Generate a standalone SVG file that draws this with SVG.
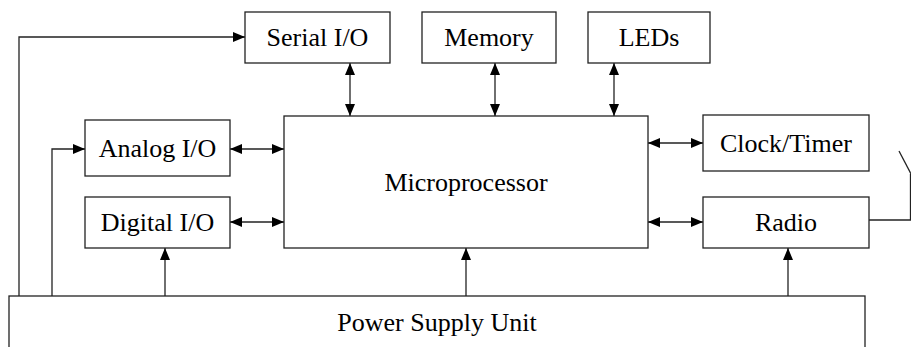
<svg xmlns="http://www.w3.org/2000/svg" width="911" height="347" viewBox="0 0 911 347">
<defs>
<marker id="ah" viewBox="0 0 12 10" refX="12" refY="5" markerWidth="12" markerHeight="10" markerUnits="userSpaceOnUse" orient="auto-start-reverse">
<path d="M0,0 L12,5 L0,10 Z" fill="#000"/>
</marker>
</defs>
<style>
.box{fill:#fff;stroke:#222;stroke-width:1.3}
.lbl{font-family:"Liberation Serif","Times New Roman",serif;font-size:26px;fill:#000;text-anchor:middle;dominant-baseline:central}
.ln{fill:none;stroke:#222;stroke-width:1.3}
</style>
<rect width="911" height="347" fill="#fff"/>
<g id="connectors">
<path class="ln" d="M19,296 V37 H245" marker-end="url(#ah)"/>
<path class="ln" d="M52,296 V149 H85" marker-end="url(#ah)"/>
<path class="ln" d="M350,63 V116" marker-start="url(#ah)" marker-end="url(#ah)"/>
<path class="ln" d="M495,63 V116" marker-start="url(#ah)" marker-end="url(#ah)"/>
<path class="ln" d="M614,63 V116" marker-start="url(#ah)" marker-end="url(#ah)"/>
<path class="ln" d="M230,149 H284" marker-start="url(#ah)" marker-end="url(#ah)"/>
<path class="ln" d="M230,222 H284" marker-start="url(#ah)" marker-end="url(#ah)"/>
<path class="ln" d="M648,143 H703" marker-start="url(#ah)" marker-end="url(#ah)"/>
<path class="ln" d="M648,222 H703" marker-start="url(#ah)" marker-end="url(#ah)"/>
<path class="ln" d="M165,296 V248" marker-end="url(#ah)"/>
<path class="ln" d="M466,296 V248" marker-end="url(#ah)"/>
<path class="ln" d="M788,296 V248" marker-end="url(#ah)"/>
<path class="ln" d="M869,220 H911"/>
<path class="ln" d="M910.5,220 V174"/>
<path class="ln" d="M899,151 L911,174"/>
</g>
<g id="serial"><rect class="box" x="245" y="12" width="145" height="51"/><text class="lbl" x="317.5" y="37.5">Serial I/O</text></g>
<g id="memory"><rect class="box" x="422" y="12" width="134" height="51"/><text class="lbl" x="489" y="37.5">Memory</text></g>
<g id="leds"><rect class="box" x="588" y="12" width="122" height="51"/><text class="lbl" x="649" y="37.5">LEDs</text></g>
<g id="micro"><rect class="box" x="284" y="116" width="364" height="132"/><text class="lbl" x="466" y="182">Microprocessor</text></g>
<g id="analog"><rect class="box" x="85" y="120" width="145" height="56"/><text class="lbl" x="157.5" y="148">Analog I/O</text></g>
<g id="digital"><rect class="box" x="85" y="197" width="145" height="51"/><text class="lbl" x="157.5" y="222.5">Digital I/O</text></g>
<g id="clock"><rect class="box" x="703" y="115" width="166" height="56"/><text class="lbl" x="786" y="143">Clock/Timer</text></g>
<g id="radio"><rect class="box" x="703" y="197" width="166" height="51"/><text class="lbl" x="786" y="222.5">Radio</text></g>
<g id="psu"><rect class="box" x="9" y="296" width="856" height="70"/><text class="lbl" x="437" y="322">Power Supply Unit</text></g>
</svg>
